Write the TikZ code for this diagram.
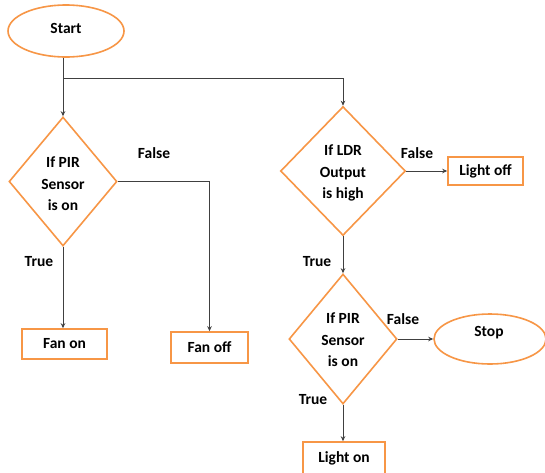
\documentclass[tikz,border=0pt]{standalone}
\usepackage{fontspec}
\setmainfont{Carlito}
\usetikzlibrary{shapes.geometric,arrows.meta}
\definecolor{orng}{HTML}{F79646}
\definecolor{conn}{HTML}{404040}
\tikzset{
  term/.style={ellipse,draw=orng,line width=1.6pt,inner sep=0pt},
  decis/.style={diamond,draw=orng,line width=1.6pt,inner sep=0pt},
  procbox/.style={rectangle,draw=orng,line width=1.6pt,inner sep=0pt},
  txt/.style={font=\bfseries\fontsize{15.5}{21.5}\selectfont,align=center,inner sep=0pt},
  lbl/.style={font=\bfseries\fontsize{15.5}{21.5}\selectfont,inner sep=0pt},
  wire/.style={draw=conn,line width=1pt},
  arr/.style={wire,-{Stealth[length=5pt,width=4.5pt]}}
}
\begin{document}
\begin{tikzpicture}[x=1pt,y=-1pt]
\useasboundingbox[fill=white] (0,0) rectangle (545,472);
% shapes
\node[term,minimum width=116pt,minimum height=52pt] (start) at (66,31) {};
\node[txt] (startt) at (66,28) {Start};
\node[decis,minimum width=108pt,minimum height=129pt] (d1) at (63,181.5) {};
\node[txt] (d1t) at (63,184) {If PIR\\Sensor\\is on};
\node[procbox,minimum width=85pt,minimum height=30pt] (fanon) at (64.5,344) {};
\node[txt] (fanont) at (64.5,344) {Fan on};
\node[procbox,minimum width=77pt,minimum height=31pt] (fanoff) at (209.5,347.5) {};
\node[txt] (fanofft) at (209.5,347.5) {Fan off};
\node[decis,minimum width=125pt,minimum height=129pt] (d2) at (343,171) {};
\node[txt] (d2t) at (343,173) {If LDR\\Output\\is high};
\node[procbox,minimum width=75pt,minimum height=28pt] (lightoff) at (485.5,171) {};
\node[txt] (lightofft) at (485.5,171) {Light off};
\node[decis,minimum width=108pt,minimum height=130pt] (d3) at (343,339) {};
\node[txt] (d3t) at (343,340) {If PIR\\Sensor\\is on};
\node[term,minimum width=112pt,minimum height=50pt] (stop) at (490,339) {};
\node[txt] (stopt) at (489,333) {Stop};
\node[procbox,minimum width=82pt,minimum height=34pt] (lighton) at (344,459) {};
\node[txt] (lightont) at (344,458) {Light on};
% labels
\node[lbl] (f1) at (154,153) {False};
\node[lbl] (t1) at (39,262) {True};
\node[lbl] (f2) at (417,153) {False};
\node[lbl] (t2) at (317,262) {True};
\node[lbl] (f3) at (403,319) {False};
\node[lbl] (t3) at (313,400) {True};
% connectors
\coordinate (j) at (63,78);
\draw[arr] (d1.north |- start.south) -- (d1.north);
\draw[wire] (j) -- (343,78);
\draw[arr] (j) -| (d2.north);
\draw[arr] (d1.east) -| (fanoff.north);
\draw[arr] (d1.south) -- (d1.south |- fanon.north);
\draw[arr] (d2.east) -- (lightoff.west |- d2.east);
\draw[arr] (d2.south) -- (d3.north);
\draw[arr] (d3.east) -- (stop.west);
\draw[arr] (d3.south) -- (d3.south |- lighton.north);
\end{tikzpicture}
\end{document}
